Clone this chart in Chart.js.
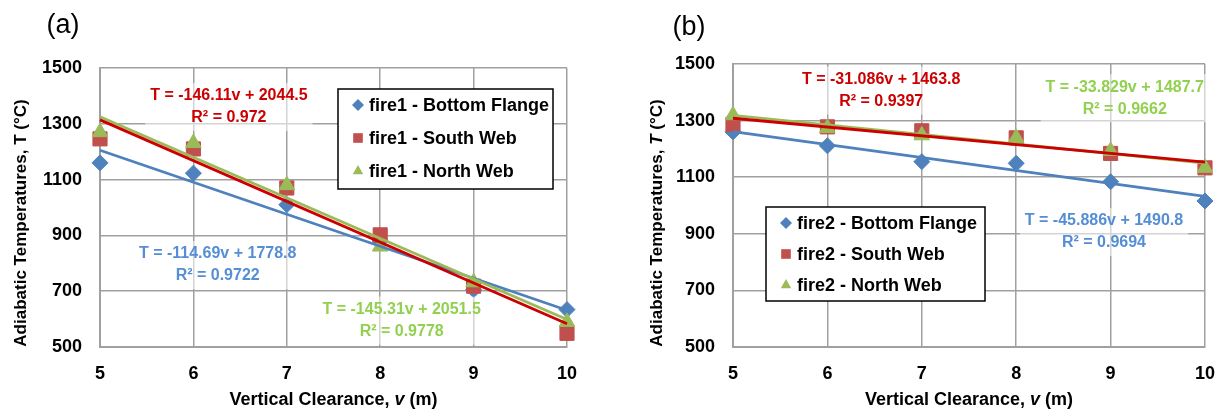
<!DOCTYPE html>
<html>
<head>
<meta charset="utf-8">
<title>Adiabatic temperatures vs vertical clearance</title>
<script src="https://cdn.jsdelivr.net/npm/chart.js@4.4.0/dist/chart.umd.min.js"></script>
<style>
  body { margin: 0; background: #fff; }
  #wrap { position: relative; width: 1221px; height: 412px; }
  .panel { position: absolute; top: 0; height: 412px; }
</style>
</head>
<body>
<div id="wrap">
  <div class="panel" style="left:0;width:610px"><canvas id="chartA"></canvas></div>
  <div class="panel" style="left:610px;width:611px"><canvas id="chartB"></canvas></div>
</div>
<script>
// data
const clearance = [5, 6, 7, 8, 9, 10];
const seriesNames = ["Bottom Flange", "South Web", "North Web"];

const fire1Bottom = [1160, 1123, 1010, 880, 705, 634];
const fire1South = [1246, 1210, 1070, 902, 718, 549];
const fire1North = [1270, 1231, 1080, 860, 732, 590];

const fire2Bottom = [1260, 1211, 1155, 1149, 1084, 1016];
const fire2South = [1287, 1278, 1264, 1239, 1184, 1133];
const fire2North = [1319, 1274, 1248, 1239, 1193, 1133];

// linear trendlines as printed on the chart (bottom, south, north)
const fire1Slopes = [-114.69, -146.11, -145.31];
const fire1Intercepts = [1778.8, 2044.5, 2051.5];
const fire1R2 = ["0.9722", "0.972", "0.9778"];

const fire2Slopes = [-45.886, -31.086, -33.829];
const fire2Intercepts = [1490.8, 1463.8, 1487.7];
const fire2R2 = ["0.9694", "0.9397", "0.9662"];

const FONT = '"Liberation Sans", Arial, sans-serif';
const markerColors = ["#4F81BD", "#C0504D", "#9BBB59"];
const lineColors = ["#4F81BD", "#CC0000", "#9BBB59"];
const labelColors = ["#558ED5", "#CC0000", "#92D050"];
const markerStyles = ["rectRot", "rect", "triangle"];
const gridColor = "#a0a0a0";

function drawMarker(ctx, style, x, y, r) {
  ctx.beginPath();
  if (style === "rectRot") {
    ctx.moveTo(x, y - r); ctx.lineTo(x + r, y); ctx.lineTo(x, y + r); ctx.lineTo(x - r, y);
  } else if (style === "rect") {
    const s = r * 0.8;
    ctx.rect(x - s, y - s, 2 * s, 2 * s);
  } else {
    ctx.moveTo(x, y - r); ctx.lineTo(x + r * 0.87, y + r * 0.55); ctx.lineTo(x - r * 0.87, y + r * 0.55);
  }
  ctx.closePath();
  ctx.fill();
}

// text made of pieces, some italic, centred at (cx, cy)
function drawRich(ctx, parts, cx, cy, size, rot) {
  let total = 0;
  parts.forEach(p => {
    ctx.font = (p.italic ? "italic " : "") + "bold " + size + "px " + FONT;
    p.w = ctx.measureText(p.text).width;
    total += p.w;
  });
  ctx.save();
  ctx.translate(cx, cy);
  ctx.rotate(rot);
  ctx.textAlign = "left";
  ctx.textBaseline = "middle";
  ctx.fillStyle = "#000";
  let x = -total / 2;
  parts.forEach(p => {
    ctx.font = (p.italic ? "italic " : "") + "bold " + size + "px " + FONT;
    ctx.fillText(p.text, x, 0);
    x += p.w;
  });
  ctx.restore();
}

const extras = {
  id: "extras",
  afterDraw(chart, args, o) {
    const ctx = chart.ctx;
    const area = chart.chartArea;
    const xs = chart.scales.x, ys = chart.scales.y;
    ctx.save();

    ctx.fillStyle = "#000";
    ctx.font = "27px " + FONT;
    ctx.textAlign = "center";
    ctx.textBaseline = "middle";
    ctx.fillText(o.panel, o.panelX, o.panelY);

    drawRich(ctx, [{ text: "Vertical Clearance, " }, { text: "v", italic: true }, { text: " (m)" }],
      (area.left + area.right) / 2, 400, 18, 0);
    drawRich(ctx, [{ text: "Adiabatic Temperatures, " }, { text: "T", italic: o.italicT }, { text: " (°C)" }],
      o.yTitleX, 223, 17, -Math.PI / 2);

    // trendline equations
    ctx.font = "bold 16px " + FONT;
    ctx.textAlign = "center";
    ctx.textBaseline = "middle";
    o.fits.slopes.forEach((m, i) => {
      const px = xs.getPixelForValue(o.eqAt[i][0]);
      const py = ys.getPixelForValue(o.eqAt[i][1]);
      const eq = "T = " + m + "v + " + o.fits.intercepts[i];
      const w = ctx.measureText(eq).width + 10;
      ctx.fillStyle = "rgba(255,255,255,0.55)";
      ctx.fillRect(px - w / 2, py - 13, w, 48);
      ctx.fillStyle = labelColors[i];
      ctx.fillText(eq, px, py);
      ctx.fillText("R² = " + o.fits.r2[i], px, py + 22);
    });

    // legend box inside the plot
    const L = o.legend;
    ctx.fillStyle = "#fff";
    ctx.fillRect(L.x, L.y, L.w, L.h);
    ctx.strokeStyle = "#000";
    ctx.lineWidth = 1.5;
    ctx.strokeRect(L.x, L.y, L.w, L.h);
    ctx.font = "bold 18px " + FONT;
    ctx.textAlign = "left";
    chart.data.datasets.slice(0, 3).forEach((ds, i) => {
      const y = L.y + L.row0 + i * L.step;
      ctx.fillStyle = markerColors[i];
      drawMarker(ctx, markerStyles[i], L.x + 20, y, 6);
      ctx.fillStyle = "#000";
      ctx.fillText(ds.label, L.x + 31, y + 1);
    });
    ctx.restore();
  }
};

function buildChart(canvasId, fire, values, look) {
  const fits = look.fits;
  const datasets = [];
  values.forEach((vals, i) => {
    datasets.push({
      type: "scatter",
      label: fire + " - " + seriesNames[i],
      data: clearance.map((v, k) => ({ x: v, y: vals[k] })),
      pointStyle: markerStyles[i],
      pointRadius: [8, 10, 9][i],
      pointBackgroundColor: markerColors[i],
      pointBorderColor: markerColors[i],
      pointBorderWidth: 1,
      clip: false,
      order: 6 - i
    });
  });
  const lineOrder = [3, 1, 2];
  fits.slopes.forEach((m, i) => {
    const ends = [clearance[0], clearance[clearance.length - 1]];
    datasets.push({
      type: "line",
      label: "trend " + i,
      data: ends.map(v => ({ x: v, y: m * v + fits.intercepts[i] })),
      borderColor: lineColors[i],
      borderWidth: 2.8,
      pointRadius: 0,
      fill: false,
      clip: false,
      order: lineOrder[i]
    });
  });

  return new Chart(document.getElementById(canvasId), {
    data: { datasets },
    options: {
      responsive: true,
      maintainAspectRatio: false,
      animation: false,
      layout: { padding: { left: 0, right: look.padRight, top: look.padTop, bottom: 0 } },
      plugins: {
        legend: { display: false },
        tooltip: { enabled: false },
        extras: look
      },
      scales: {
        x: {
          type: "linear",
          min: 5, max: 10,
          afterFit: s => { s.height = 412 - look.bottom; s.paddingLeft = 0; s.paddingRight = 0; },
          ticks: { stepSize: 1, padding: 16, color: "#000", font: { family: FONT, size: 18, weight: "bold" } },
          grid: { color: gridColor, lineWidth: 1.5, drawTicks: false },
          border: { color: gridColor, width: 2 }
        },
        y: {
          min: 500, max: 1500,
          afterFit: s => { s.width = look.axisWidth; s.paddingTop = 0; s.paddingBottom = 0; },
          ticks: {
            stepSize: 200, padding: 18, color: "#000",
            font: { family: FONT, size: 18, weight: "bold" },
            callback: v => String(v)
          },
          grid: { color: gridColor, lineWidth: 1.5, drawTicks: false },
          border: { color: gridColor, width: 2 }
        }
      }
    },
    plugins: [extras]
  });
}

buildChart("chartA", "fire1", [fire1Bottom, fire1South, fire1North], {
  fits: { slopes: fire1Slopes, intercepts: fire1Intercepts, r2: fire1R2 },
  panel: "(a)", panelX: 63, panelY: 26, yTitleX: 21, italicT: false,
  axisWidth: 100, padRight: 43, padTop: 68, bottom: 347,
  eqAt: [[6.26, 833], [6.38, 1400], [8.23, 634]],
  legend: { x: 338, y: 89, w: 215, h: 100, row0: 16, step: 33 }
});

buildChart("chartB", "fire2", [fire2Bottom, fire2South, fire2North], {
  fits: { slopes: fire2Slopes, intercepts: fire2Intercepts, r2: fire2R2 },
  panel: "(b)", panelX: 79, panelY: 28, yTitleX: 47, italicT: true,
  axisWidth: 123, padRight: 16, padTop: 64, bottom: 347,
  eqAt: [[8.93, 945], [6.57, 1445], [9.15, 1418]],
  legend: { x: 156, y: 207, w: 219, h: 94, row0: 16, step: 31 }
});
</script>
</body>
</html>
